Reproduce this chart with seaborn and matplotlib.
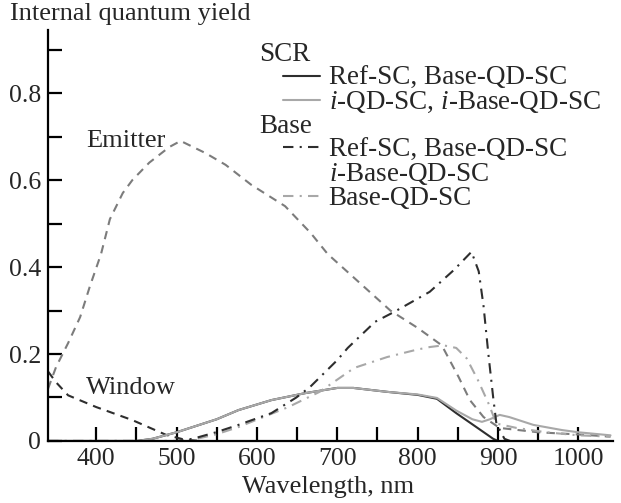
import matplotlib
matplotlib.use('Agg')

import matplotlib.pyplot as plt
from matplotlib.lines import Line2D
import seaborn as sns
import pandas as pd

emitter_wl = [340, 350, 365, 380, 392, 406, 417, 433, 445, 466, 491, 505, 536, 561, 593, 635, 667,
              688, 730, 766, 800, 830, 851, 865, 882, 902, 950, 1000, 1040]
emitter_qy = [0.12, 0.17, 0.225, 0.285, 0.355, 0.43, 0.51, 0.57, 0.60, 0.64, 0.676, 0.69, 0.662, 0.635, 0.589, 0.54, 0.478,
              0.43, 0.36, 0.30, 0.26, 0.22, 0.147, 0.094, 0.055, 0.03, 0.02, 0.015, 0.01]

window_wl = [340, 350, 365, 400, 445, 487, 510, 530]
window_qy = [0.16, 0.135, 0.105, 0.078, 0.048, 0.014, 0.003, 0.0]

scr_ref_wl = [340, 450, 470, 500, 550, 577, 618, 660, 700, 720, 762, 800, 824, 848, 873, 894, 900]
scr_ref_qy = [0.0, 0.0, 0.005, 0.02, 0.05, 0.071, 0.094, 0.11, 0.122, 0.122, 0.113, 0.106, 0.097, 0.064, 0.032, 0.005, 0.0]

scr_i_wl = [340, 450, 470, 500, 550, 577, 618, 660, 700, 720, 762, 800, 824, 848, 868, 880, 890, 902, 914, 944, 980, 1000, 1040]
scr_i_qy = [0.0, 0.0, 0.005, 0.02, 0.05, 0.071, 0.094, 0.11, 0.122, 0.122, 0.113, 0.107, 0.099, 0.07, 0.05, 0.044, 0.05, 0.06, 0.055, 0.037, 0.025, 0.02, 0.013]

base_ref_wl = [340, 500, 520, 549, 577, 618, 649, 666, 700, 713, 747, 771, 815, 845, 867, 876, 882, 888, 894, 898, 908, 915]
base_ref_qy = [0.0, 0.0, 0.005, 0.02, 0.037, 0.064, 0.10, 0.124, 0.186, 0.214, 0.274, 0.297, 0.343, 0.393, 0.435, 0.39, 0.31, 0.20, 0.10, 0.04, 0.005, 0.0]

base_qd_wl = [340, 500, 520, 549, 577, 639, 678, 721, 762, 799, 815, 832, 848, 861, 875, 888, 898, 923, 960, 1000, 1040]
base_qd_qy = [0.0, 0.0, 0.003, 0.015, 0.032, 0.078, 0.113, 0.168, 0.193, 0.21, 0.216, 0.22, 0.214, 0.19, 0.14, 0.087, 0.04, 0.03, 0.02, 0.013, 0.01]

dark = '#2e2e2e'
light = '#a8a8a8'
mid = '#7c7c7c'

sns.set_style('ticks')
plt.rcParams['font.family'] = ['Liberation Serif', 'DejaVu Serif']
plt.rcParams['mathtext.fontset'] = 'custom'
plt.rcParams['mathtext.it'] = 'Liberation Serif:italic'
plt.rcParams['mathtext.rm'] = 'Liberation Serif'
fs_tick = 18.5
fs_lab = 19
fs_leg = 19.5

fig = plt.figure(figsize=(6.21, 5.03), dpi=100)
ax = fig.add_axes([0.0773, 0.1233, 0.9097, 0.8170])

curves = [
    (emitter_wl, emitter_qy, mid, (4, 3)),
    (window_wl, window_qy, dark, (4, 3)),
    (scr_ref_wl, scr_ref_qy, dark, None),
    (scr_i_wl, scr_i_qy, light, None),
    (base_qd_wl, base_qd_qy, light, (5, 3, 1, 3)),
    (base_ref_wl, base_ref_qy, dark, (5, 3, 1, 3)),
]
for wl, qy, col, dash in curves:
    df = pd.DataFrame({'wl': wl, 'qy': qy})
    line_kw = {'color': col, 'linewidth': 1.5}
    if dash is not None:
        line_kw['dashes'] = dash
    sns.lineplot(data=df, x='wl', y='qy', ax=ax, legend=False, sort=False, **line_kw)

ax.set_xlim(340, 1043)
ax.set_ylim(0, 0.945)
ax.set_xticks([400, 500, 600, 700, 800, 900, 1000])
ax.set_xticks([450, 550, 650, 750, 850, 950], minor=True)
ax.set_yticks([0, 0.2, 0.4, 0.6, 0.8])
ax.set_yticklabels(['0', '0.2', '0.4', '0.6', '0.8'])
ax.set_yticks([0.1, 0.3, 0.5, 0.7, 0.9], minor=True)
ax.tick_params(which='both', direction='in', length=10, width=1.6, labelsize=fs_tick, color='black', pad=5)
for side in ['top', 'right']:
    ax.spines[side].set_visible(False)
for side in ['left', 'bottom']:
    ax.spines[side].set_linewidth(1.6)
    ax.spines[side].set_color('black')

ax.set_xlabel('Wavelength, nm', fontsize=fs_lab)
ax.xaxis.set_label_coords(0.495, -0.085)
ax.set_ylabel('Internal quantum yield', fontsize=fs_lab, rotation=0, ha='left', va='baseline')
ax.yaxis.set_label_coords(-0.067, 1.025)

ax.text(387, 0.69, 'Emitter', fontsize=fs_lab, va='center', ha='left')
ax.text(387, 0.122, 'Window', fontsize=fs_lab, va='center', ha='left')

blank = Line2D([], [], color='none')
handles = [
    blank,
    Line2D([], [], color=dark, lw=1.5),
    Line2D([], [], color=light, lw=1.5),
    blank,
    Line2D([], [], color=dark, lw=1.5, dashes=(5, 3, 1, 3)),
    blank,
    Line2D([], [], color=light, lw=1.5, dashes=(5, 3, 1, 3)),
]
labels = ['SCR', 'Ref-SC, Base-QD-SC', '$i$-QD-SC, $i$-Base-QD-SC', 'Base',
          'Ref-SC, Base-QD-SC', '$i$-Base-QD-SC', 'Base-QD-SC']
leg = ax.legend(handles, labels, loc='upper left', bbox_to_anchor=(0.416, 0.97),
                frameon=False, fontsize=fs_leg, borderpad=0, borderaxespad=0,
                handlelength=1.35, handletextpad=0.33, labelspacing=-0.045)
texts = leg.get_texts()
for i in (0, 3):
    texts[i].set_x(-69)

fig.savefig('out.png', dpi=100)
